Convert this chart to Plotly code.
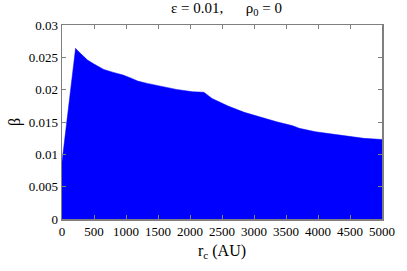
import plotly.graph_objects as go

r_au = [0, 212, 247, 298, 348, 399, 500, 652, 803, 955, 1100, 1182, 1333, 1535, 1788,
        2040, 2217, 2343, 2596, 2848, 3101, 3353, 3606, 3707, 3960, 4212, 4465, 4717, 5000]
beta = [0.0088, 0.0264, 0.0260, 0.0255, 0.0250, 0.02457, 0.02396, 0.02313, 0.02267, 0.02226,
        0.0217, 0.02133, 0.02097, 0.02056, 0.02004, 0.01968, 0.0196, 0.01865, 0.01746,
        0.01649, 0.01572, 0.01504, 0.01442, 0.01402, 0.01349, 0.01314, 0.01283, 0.01247, 0.0123]

x_ticks = [0, 500, 1000, 1500, 2000, 2500, 3000, 3500, 4000, 4500, 5000]
y_ticks = [0, 0.005, 0.01, 0.015, 0.02, 0.025, 0.03]
y_labels = ["0", "0.005", "0.01", "0.015", "0.02", "0.025", "0.03"]

font = "Liberation Serif"

fig = go.Figure()
fig.add_trace(go.Scatter(x=r_au, y=beta, mode="lines", fill="tozeroy",
                         line=dict(color="#0000ff", width=0.5),
                         fillcolor="#0000ff", showlegend=False, hoverinfo="skip"))

axis_common = dict(showgrid=False, zeroline=False, showline=True, linecolor="#7f7f7f",
                   linewidth=1.5, mirror="ticks", ticks="inside", ticklen=4,
                   tickcolor="#7f7f7f", tickwidth=1,
                   tickfont=dict(family=font, size=13, color="black"))

fig.update_layout(
    width=407, height=271,
    margin=dict(l=62, r=16, t=25, b=52),
    paper_bgcolor="white", plot_bgcolor="white",
    font=dict(family=font, size=13, color="black"),
    title=dict(text="ε = 0.01,\u00a0\u00a0\u00a0\u00a0\u00a0\u00a0ρ<sub>0</sub> = 0",
               x=0.5565, xanchor="center", y=0.972, yanchor="middle",
               font=dict(family=font, size=15, color="black")),
    xaxis=dict(range=[0, 5000], tickvals=x_ticks, ticktext=[str(v) for v in x_ticks],
               title=dict(text="r<sub>c</sub> (AU)", standoff=6,
                          font=dict(family=font, size=16)),
               **axis_common),
    yaxis=dict(range=[0, 0.03], tickvals=y_ticks, ticktext=y_labels,
               title=dict(text="β", standoff=4, font=dict(family=font, size=16)),
               **axis_common),
)

fig.write_html("out.html", config={"displayModeBar": False, "staticPlot": True},
               post_script="document.body.style.margin='0';document.body.style.overflow='hidden';")
